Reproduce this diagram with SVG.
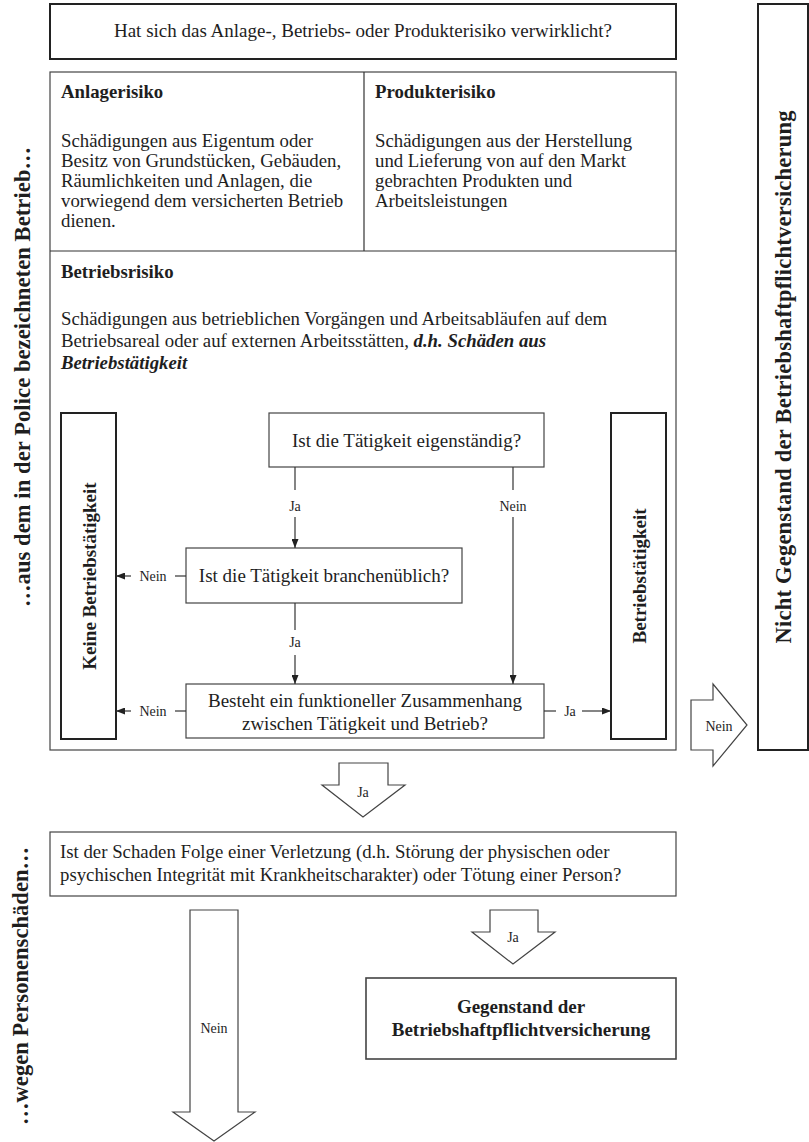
<svg xmlns="http://www.w3.org/2000/svg" width="809" height="1142" viewBox="0 0 809 1142">
<defs>
<style>
text{font-family:"Liberation Serif","Times New Roman",serif;fill:#1e1e1e}
.t{font-size:18.8px}
.q{font-size:19px;text-anchor:middle}
.b{font-weight:bold}
.bi{font-weight:bold;font-style:italic}
.lbl{font-size:14px;text-anchor:middle}
.big{font-size:22.5px;font-weight:bold;text-anchor:middle}
.vb{font-size:19px;font-weight:bold;text-anchor:middle}
.thin{fill:#fff;stroke:#444;stroke-width:1.2}
.thick{fill:#fff;stroke:#222;stroke-width:2}
.blk{fill:#fff;stroke:#444;stroke-width:1.2;stroke-linejoin:miter}
.c{stroke:#333;stroke-width:1.2;fill:none}
</style>
<marker id="ah" markerWidth="9" markerHeight="7" refX="9" refY="3.5" orient="auto" markerUnits="userSpaceOnUse">
<path d="M0,0 L9,3.5 L0,7 z" fill="#222"/>
</marker>
</defs>
<rect width="809" height="1142" fill="#fff"/>

<g id="side-labels">
<text class="big" transform="translate(30,377) rotate(-90)" textLength="460" lengthAdjust="spacing">…aus dem in der Police bezeichneten Betrieb…</text>
<text class="big" transform="translate(28,986) rotate(-90)" textLength="278" lengthAdjust="spacing">…wegen Personenschäden…</text>
</g>

<g id="top-question">
<rect class="thick" x="50" y="4" width="626" height="55"/>
<text class="q" x="363" y="37">Hat sich das Anlage-, Betriebs- oder Produkterisiko verwirklicht?</text>
</g>

<g id="not-covered">
<rect class="thick" x="758" y="4" width="50" height="746"/>
<text class="big" transform="translate(791,377) rotate(-90)" textLength="533" lengthAdjust="spacing">Nicht Gegenstand der Betriebshaftpflichtversicherung</text>
</g>

<g id="risk-box">
<rect class="thin" x="50" y="72" width="626" height="678"/>
<line class="c" x1="364" y1="72" x2="364" y2="251"/>
<line class="c" x1="50" y1="251" x2="676" y2="251"/>
</g>

<g id="anlagerisiko">
<text class="t b" x="61" y="98">Anlagerisiko</text>
<text class="t" x="61" y="147">Schädigungen aus Eigentum oder</text>
<text class="t" x="61" y="167">Besitz von Grundstücken, Gebäuden,</text>
<text class="t" x="61" y="187">Räumlichkeiten und Anlagen, die</text>
<text class="t" x="61" y="207">vorwiegend dem versicherten Betrieb</text>
<text class="t" x="61" y="227">dienen.</text>
</g>

<g id="produkterisiko">
<text class="t b" x="375" y="98">Produkterisiko</text>
<text class="t" x="375" y="147">Schädigungen aus der Herstellung</text>
<text class="t" x="375" y="167">und Lieferung von auf den Markt</text>
<text class="t" x="375" y="187">gebrachten Produkten und</text>
<text class="t" x="375" y="207">Arbeitsleistungen</text>
</g>

<g id="betriebsrisiko">
<text class="t b" x="61" y="278">Betriebsrisiko</text>
<text class="t" x="61" y="325">Schädigungen aus betrieblichen Vorgängen und Arbeitsabläufen auf dem</text>
<text class="t" x="61" y="347">Betriebsareal oder auf externen Arbeitsstätten, <tspan class="bi">d.h. Schäden aus</tspan></text>
<text class="t bi" x="61" y="369">Betriebstätigkeit</text>
</g>

<g id="keine-betriebstaetigkeit">
<rect class="thick" x="61" y="413" width="55" height="326"/>
<text class="vb" transform="translate(96,576) rotate(-90)">Keine Betriebstätigkeit</text>
</g>

<g id="betriebstaetigkeit">
<rect class="thick" x="611" y="413" width="55" height="326"/>
<text class="vb" transform="translate(646,576) rotate(-90)">Betriebstätigkeit</text>
</g>

<g id="q-eigenstaendig">
<rect class="thin" x="269" y="413" width="275" height="54"/>
<text class="q" x="406.5" y="447">Ist die Tätigkeit eigenständig?</text>
</g>

<g id="q-branchenueblich">
<rect class="thin" x="186" y="548" width="276" height="55"/>
<text class="q" x="324" y="582">Ist die Tätigkeit branchenüblich?</text>
</g>

<g id="q-zusammenhang">
<rect class="thin" x="186" y="684" width="358" height="54"/>
<text class="q" x="365" y="707">Besteht ein funktioneller Zusammenhang</text>
<text class="q" x="365" y="730">zwischen Tätigkeit und Betrieb?</text>
</g>

<g id="connectors">
<line class="c" x1="295" y1="467" x2="295" y2="490"/>
<text class="lbl" x="295" y="511">Ja</text>
<line class="c" x1="295" y1="517" x2="295" y2="548" marker-end="url(#ah)"/>
<line class="c" x1="513" y1="467" x2="513" y2="490"/>
<text class="lbl" x="513" y="511">Nein</text>
<line class="c" x1="513" y1="517" x2="513" y2="684" marker-end="url(#ah)"/>
<line class="c" x1="295" y1="603" x2="295" y2="630"/>
<text class="lbl" x="295" y="647">Ja</text>
<line class="c" x1="295" y1="655" x2="295" y2="684" marker-end="url(#ah)"/>
<line class="c" x1="186" y1="576" x2="175" y2="576"/>
<text class="lbl" x="153" y="581">Nein</text>
<line class="c" x1="131" y1="576" x2="116" y2="576" marker-end="url(#ah)"/>
<line class="c" x1="186" y1="711" x2="175" y2="711"/>
<text class="lbl" x="153" y="716">Nein</text>
<line class="c" x1="131" y1="711" x2="116" y2="711" marker-end="url(#ah)"/>
<line class="c" x1="544" y1="711" x2="556" y2="711"/>
<text class="lbl" x="570" y="716">Ja</text>
<line class="c" x1="582" y1="711" x2="611" y2="711" marker-end="url(#ah)"/>
</g>

<g id="arrow-ja-1">
<path class="blk" d="M339,763 H388 V785 H405 L363,817 L322,785 H339 Z"/>
<text class="lbl" x="363" y="797">Ja</text>
</g>

<g id="arrow-nein-right">
<path class="blk" d="M691,700 H713 V684 L747,725 L713,766 V750 H691 Z"/>
<text class="lbl" x="719" y="731">Nein</text>
</g>

<g id="q-personenschaden">
<rect class="thin" x="50" y="832" width="626" height="64"/>
<text class="t" x="60" y="858">Ist der Schaden Folge einer Verletzung (d.h. Störung der physischen oder</text>
<text class="t" x="60" y="881">psychischen Integrität mit Krankheitscharakter) oder Tötung einer Person?</text>
</g>

<g id="arrow-nein-down">
<path class="blk" d="M190,910 H238 V1112 H255 L214,1141 L173,1112 H190 Z"/>
<text class="lbl" x="214" y="1033">Nein</text>
</g>

<g id="arrow-ja-2">
<path class="blk" d="M490,910 H538 V932 H555 L513,964 L472,932 H490 Z"/>
<text class="lbl" x="513" y="942">Ja</text>
</g>

<g id="covered">
<rect class="thin" x="366" y="978" width="310" height="81" style="stroke-width:1.6"/>
<text class="q b" x="521" y="1013">Gegenstand der</text>
<text class="q b" x="521" y="1036">Betriebshaftpflichtversicherung</text>
</g>
</svg>
